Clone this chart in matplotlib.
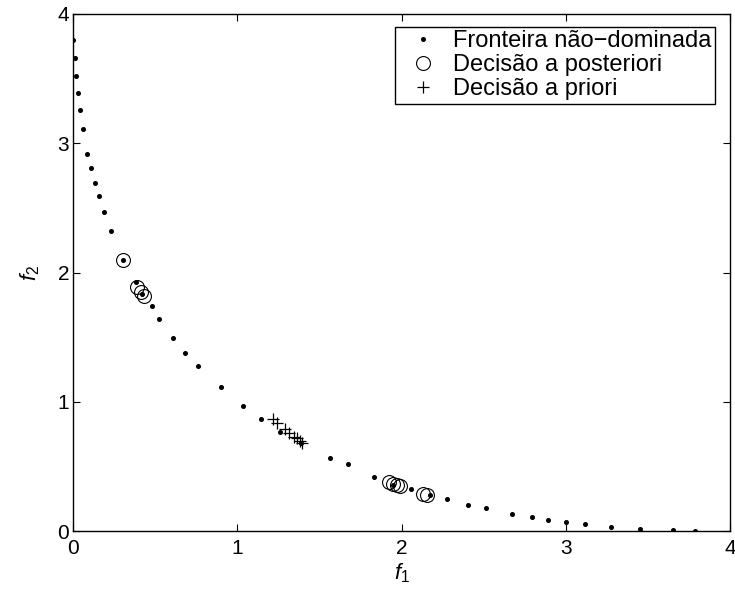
import matplotlib
matplotlib.use("Agg")
import matplotlib.pyplot as plt

# ===== data =====
frontier_f1 = [0.0, 0.01, 0.016, 0.027, 0.039, 0.057, 0.085, 0.108, 0.132, 0.155,
               0.185, 0.23, 0.30, 0.38, 0.42, 0.478, 0.522, 0.606, 0.681, 0.760,
               0.900, 1.032, 1.142, 1.262, 1.388, 1.562, 1.672, 1.832, 1.95, 2.055,
               2.17, 2.279, 2.404, 2.515, 2.675, 2.795, 2.893, 3.0, 3.114, 3.275,
               3.453, 3.653, 3.787]
frontier_f2 = [3.80, 3.66, 3.52, 3.39, 3.26, 3.11, 2.92, 2.81, 2.69, 2.59,
               2.47, 2.32, 2.10, 1.93, 1.83, 1.74, 1.64, 1.49, 1.38, 1.28,
               1.116, 0.967, 0.866, 0.767, 0.682, 0.562, 0.516, 0.415, 0.353, 0.322,
               0.277, 0.244, 0.201, 0.181, 0.131, 0.106, 0.088, 0.070, 0.054, 0.033,
               0.018, 0.008, 0.0]

post_f1 = [0.30, 0.39, 0.415, 0.43, 1.92, 1.95, 1.97, 1.99, 2.13, 2.155]
post_f2 = [2.10, 1.89, 1.85, 1.82, 0.38, 0.365, 0.355, 0.35, 0.29, 0.28]

prior_f1 = [1.219, 1.243, 1.290, 1.316, 1.347, 1.365, 1.381, 1.394]
prior_f2 = [0.864, 0.838, 0.789, 0.760, 0.729, 0.717, 0.696, 0.683]

labels = ["Fronteira não\u2212dominada", "Decisão a posteriori", "Decisão a priori"]

# ===== style =====
plt.rcParams.update({
    "font.family": ["Liberation Sans", "DejaVu Sans"],
    "font.size": 15,
    "mathtext.fontset": "custom",
    "mathtext.rm": "Liberation Sans",
    "mathtext.it": "Liberation Sans:italic",
    "axes.linewidth": 1.0,
})

fig = plt.figure(figsize=(7.35, 5.98), dpi=100)
ax = fig.add_axes([0.0997, 0.112, 0.8935, 0.8646])

ax.plot(frontier_f1, frontier_f2, linestyle="none", marker="o", markersize=2.6,
        color="black", label=labels[0])
ax.plot(post_f1, post_f2, linestyle="none", marker="o", markersize=10,
        markerfacecolor="none", markeredgecolor="black", markeredgewidth=0.8,
        label=labels[1])
ax.plot(prior_f1, prior_f2, linestyle="none", marker="+", markersize=9,
        color="black", markeredgewidth=0.9, label=labels[2])

ax.set_xlim(0, 4)
ax.set_ylim(0, 4)
ax.set_xticks([0, 1, 2, 3, 4])
ax.set_yticks([0, 1, 2, 3, 4])
ax.tick_params(axis="both", direction="in", top=True, right=True, length=5,
               width=0.8, labelsize=15)
ax.tick_params(axis="x", pad=6)
ax.tick_params(axis="y", pad=3)

ax.set_xlabel(r"$f_{\mathit{1}}$", fontsize=16, labelpad=2)
ax.set_ylabel(r"$f_{\mathit{2}}$", fontsize=16, labelpad=11)

# legend: square black frame, upper right
leg = ax.legend(loc="upper right", bbox_to_anchor=(0.977, 0.975), borderaxespad=0,
                fancybox=False, edgecolor="black", framealpha=1, fontsize=17,
                handlelength=2.1, handletextpad=0.2, labelspacing=0.08,
                borderpad=0.15)
leg.get_frame().set_linewidth(1.0)

fig.savefig("out.png", dpi=100)
